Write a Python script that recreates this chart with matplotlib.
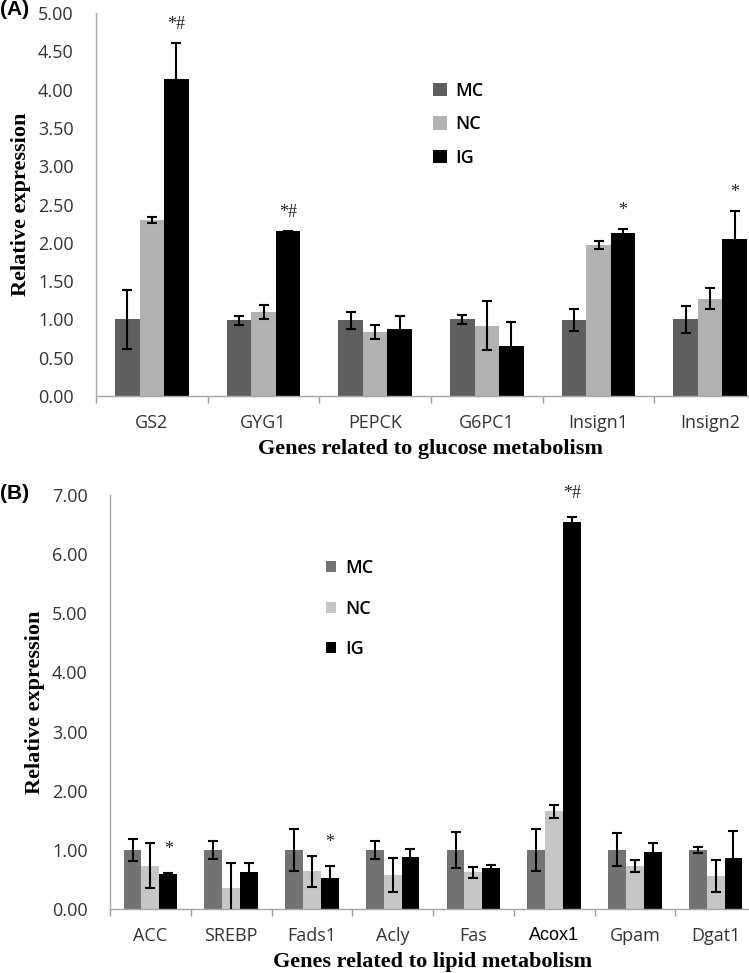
import numpy as np
import matplotlib; matplotlib.use("Agg")
import matplotlib.pyplot as plt
from matplotlib.patches import Patch

groups = ["MC", "NC", "IG"]

# panel A: glucose metabolism
genes_a = ["GS2", "GYG1", "PEPCK", "G6PC1", "Insign1", "Insign2"]
mc_a = [1.00, 0.99, 0.99, 1.00, 0.99, 1.00]
nc_a = [2.30, 1.10, 0.84, 0.92, 1.97, 1.27]
ig_a = [4.14, 2.16, 0.87, 0.65, 2.13, 2.05]
mc_a_err = [0.38, 0.06, 0.11, 0.06, 0.14, 0.18]
nc_a_err = [0.04, 0.09, 0.09, 0.32, 0.05, 0.14]
ig_a_err = [0.47, 0.00, 0.17, 0.32, 0.05, 0.37]
marks_a = ["*#", "*#", "", "", "*", "*"]

# panel B: lipid metabolism
genes_b = ["ACC", "SREBP", "Fads1", "Acly", "Fas", "Acox1", "Gpam", "Dgat1"]
mc_b = [1.00, 1.00, 1.00, 1.00, 1.00, 1.00, 1.00, 1.00]
nc_b = [0.73, 0.36, 0.64, 0.57, 0.62, 1.65, 0.73, 0.56]
ig_b = [0.59, 0.62, 0.53, 0.88, 0.69, 6.54, 0.96, 0.86]
mc_b_err = [0.18, 0.15, 0.35, 0.15, 0.30, 0.35, 0.28, 0.05]
nc_b_err = [0.38, 0.41, 0.26, 0.29, 0.09, 0.11, 0.10, 0.27]
ig_b_err = [0.02, 0.15, 0.20, 0.13, 0.05, 0.08, 0.16, 0.46]
marks_b = ["*", "", "*", "", "", "*#", "", ""]

fig = plt.figure(figsize=(7.49, 9.73), dpi=100)
tick_font = "Open Sans"
serif = "Liberation Serif"


def panel(ax, genes, vals, errs, marks, cols, ymax, ystep, xlabel,
          leg_xy, leg_sq, leg_space, star_off):
    n = len(genes)
    x = np.arange(n)
    w = 0.22
    for k, (v, e, c) in enumerate(zip(vals, errs, cols)):
        ax.bar(x + (k - 1) * w, v, w, color=c, edgecolor="none", zorder=2)
        ax.errorbar(x + (k - 1) * w, v, yerr=e, fmt="none", ecolor="black",
                    elinewidth=1.5, capsize=3.3, capthick=1.5, zorder=3)
    top = np.array(vals[2]) + np.array(errs[2])
    for xi, t, m in zip(x + w, top, marks):
        if m:
            ax.annotate(m, (xi, t), xytext=(0, star_off), textcoords="offset points",
                        ha="center", va="bottom", fontsize=13, family=serif, color="#222222")
    ax.set_xlim(-0.5, n - 0.5)
    ax.set_ylim(0, ymax)
    yt = np.arange(0, ymax + 0.001, ystep)
    ax.set_yticks(yt)
    ax.set_yticklabels([f"{t:.2f}" for t in yt], family=tick_font, fontsize=13, color="#333333")
    ax.set_xticks(x)
    ax.set_xticklabels(genes, family=tick_font, fontsize=13, color="#333333")
    ax.set_xticks(np.arange(n + 1) - 0.5, minor=True)
    ax.tick_params(axis="x", which="major", length=0, pad=13)
    ax.tick_params(axis="x", which="minor", length=5, color="#999999", width=1)
    ax.tick_params(axis="y", length=0, pad=16)
    for s in ["top", "right"]:
        ax.spines[s].set_visible(False)
    for s in ["left", "bottom"]:
        ax.spines[s].set_color("#a6a6a6")
        ax.spines[s].set_linewidth(1.0)
    ax.set_ylabel("Relative expression", family=serif, fontweight="bold", fontsize=16, labelpad=5)
    ax.set_xlabel(xlabel, family=serif, fontweight="bold", fontsize=16, labelpad=5)
    handles = [Patch(facecolor=c, edgecolor="none", label=g) for c, g in zip(cols, groups)]
    ax.legend(handles=handles, loc="upper left", bbox_to_anchor=leg_xy, frameon=False,
              prop={"family": tick_font, "size": 13, "weight": "semibold"},
              handlelength=leg_sq, handleheight=leg_sq,
              handletextpad=0.5, labelspacing=leg_space, borderpad=0, borderaxespad=0)


ax_a = fig.add_axes([96 / 749, 1 - 396 / 973, 670 / 749, 383 / 973])
panel(ax_a, genes_a, [mc_a, nc_a, ig_a], [mc_a_err, nc_a_err, ig_a_err], marks_a,
      ["#5f5f5f", "#b2b2b2", "#000000"], 5.0, 0.5,
      "Genes related to glucose metabolism", (0.503, 0.82), 0.75, 0.85, 7)

ax_b = fig.add_axes([110 / 749, 1 - 909 / 973, 646 / 749, 414 / 973])
panel(ax_b, genes_b, [mc_b, nc_b, ig_b], [mc_b_err, nc_b_err, ig_b_err], marks_b,
      ["#737373", "#c6c6c6", "#000000"], 7.0, 1.0,
      "Genes related to lipid metabolism", (0.335, 0.845), 0.55, 1.25, 11)
for lbl in ax_b.get_xticklabels():
    if lbl.get_text() == "Acox1":
        lbl.set_family("Liberation Sans")
        lbl.set_color("#000000")

fig.text(0.0, 1.0, "(A)", ha="left", va="top", fontsize=15, fontweight="bold",
         family="Liberation Sans")
fig.text(0.0, 1 - 484 / 973, "(B)", ha="left", va="top", fontsize=15, fontweight="bold",
         family="Liberation Sans")

plt.savefig("out.png", dpi=100)
plt.close()
